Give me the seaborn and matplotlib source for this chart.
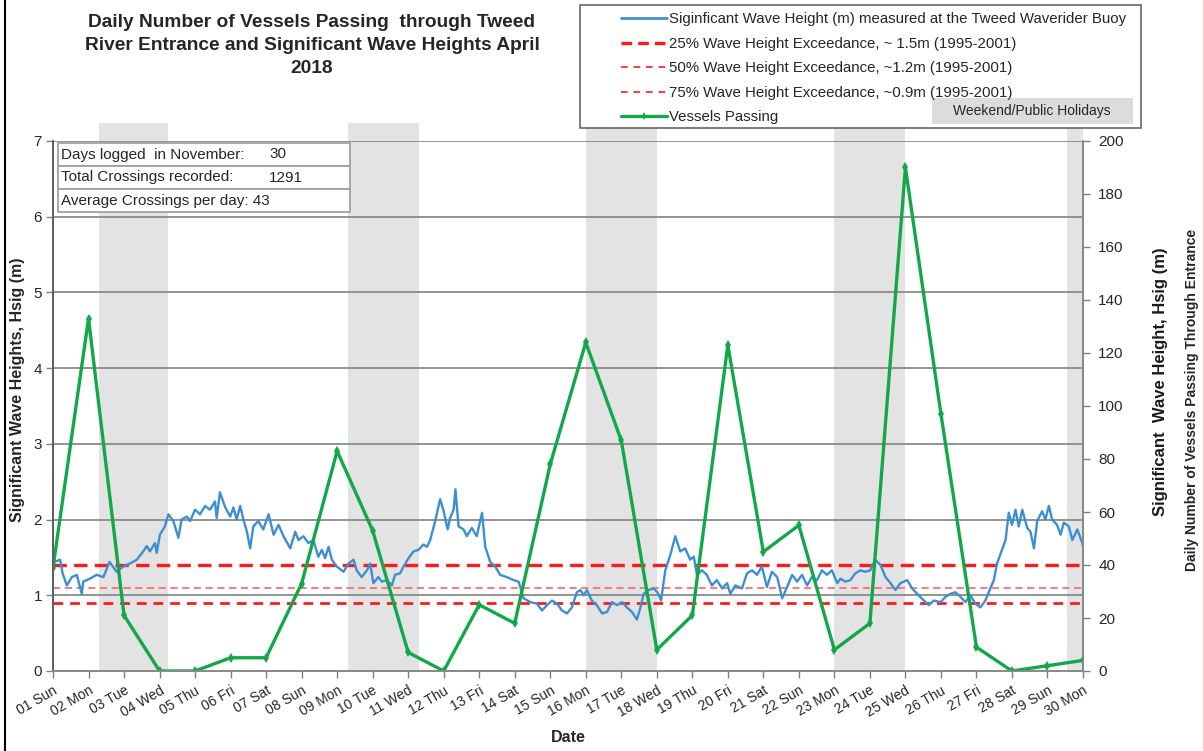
import matplotlib
matplotlib.use("Agg")
import matplotlib.pyplot as plt
import seaborn as sns
from matplotlib.lines import Line2D
from matplotlib.patches import Rectangle

TITLE = ("Daily Number of Vessels Passing  through Tweed\n"
         "River Entrance and Significant Wave Heights April\n2018")

days = list(range(1, 31))
day_labels = [
    "01 Sun", "02 Mon", "03 Tue", "04 Wed", "05 Thu", "06 Fri", "07 Sat",
    "08 Sun", "09 Mon", "10 Tue", "11 Wed", "12 Thu", "13 Fri", "14 Sat",
    "15 Sun", "16 Mon", "17 Tue", "18 Wed", "19 Thu", "20 Fri", "21 Sat",
    "22 Sun", "23 Mon", "24 Tue", "25 Wed", "26 Thu", "27 Fri", "28 Sat",
    "29 Sun", "30 Mon",
]
vessels = [39, 133, 21, 0, 0, 5, 5, 33, 83, 53, 7, 0, 25, 18, 78,
           124, 87, 8, 21, 123, 45, 55, 8, 18, 190, 97, 9, 0, 2, 4]

# significant wave height at the Tweed waverider buoy (day of month, m)
wave_day = [
    1.00, 1.03, 1.20, 1.27, 1.39, 1.53, 1.67, 1.81, 1.85, 2.04,
    2.23, 2.42, 2.59, 2.79, 2.98, 3.17, 3.36, 3.54, 3.64, 3.73,
    3.87, 3.92, 4.01, 4.15, 4.25, 4.39, 4.53, 4.62, 4.77, 4.86,
    5.00, 5.14, 5.28, 5.42, 5.56, 5.61, 5.70, 5.85, 5.99, 6.08,
    6.17, 6.27, 6.36, 6.46, 6.55, 6.64, 6.78, 6.92, 7.07, 7.21,
    7.35, 7.49, 7.68, 7.82, 7.91, 8.05, 8.19, 8.33, 8.47,
    8.57, 8.66, 8.76, 8.85, 8.99, 9.18, 9.32, 9.46, 9.55, 9.69,
    9.84, 9.93, 10.02, 10.16, 10.26, 10.40, 10.54, 10.63, 10.77, 10.87,
    11.01, 11.15, 11.29, 11.43, 11.53, 11.62, 11.76, 11.90, 12.00, 12.11,
    12.18, 12.28, 12.33, 12.42, 12.56, 12.65, 12.79, 12.93, 13.08, 13.17,
    13.31, 13.45, 13.59, 13.78, 13.97, 14.11, 14.25, 14.44, 14.62, 14.77,
    14.91, 15.05, 15.19, 15.33, 15.47, 15.61, 15.75, 15.85,
    15.94, 16.03, 16.17, 16.31, 16.46, 16.60, 16.74, 16.88, 17.02, 17.16,
    17.30, 17.44, 17.54, 17.63, 17.77, 17.91, 18.02, 18.12, 18.24, 18.38,
    18.52, 18.66, 18.80, 18.94, 19.04, 19.13, 19.27, 19.41, 19.55, 19.69,
    19.84, 19.98, 20.07, 20.21, 20.40, 20.54, 20.68, 20.82, 20.96, 21.10,
    21.24, 21.39, 21.53, 21.67, 21.81, 21.95, 22.09, 22.23, 22.37, 22.51,
    22.65, 22.79, 22.93, 23.08, 23.17,
    23.31, 23.45, 23.59, 23.73, 23.87, 24.01, 24.15, 24.30, 24.44, 24.58,
    24.72, 24.86, 25.05, 25.19, 25.33, 25.52, 25.66, 25.80, 25.99, 26.13,
    26.27, 26.41, 26.55, 26.69, 26.83, 26.97, 27.11, 27.25, 27.39, 27.49,
    27.58, 27.72, 27.82, 27.91, 28.00, 28.10, 28.19, 28.29, 28.43, 28.52,
    28.62, 28.71, 28.85, 28.94, 29.04, 29.13, 29.27, 29.37, 29.46, 29.60,
    29.70, 29.84, 29.98, 30.00,
]
wave_hsig = [
    1.42, 1.44, 1.47, 1.29, 1.13, 1.24, 1.27, 1.02, 1.18, 1.22,
    1.27, 1.24, 1.44, 1.31, 1.38, 1.42, 1.47, 1.58, 1.65, 1.58,
    1.69, 1.56, 1.80, 1.91, 2.07, 1.98, 1.76, 2.00, 2.04, 1.98,
    2.13, 2.07, 2.18, 2.13, 2.24, 2.02, 2.36, 2.16, 2.04, 2.16,
    2.00, 2.18, 2.00, 1.84, 1.62, 1.91, 1.98, 1.87, 2.07, 1.80,
    1.93, 1.78, 1.62, 1.84, 1.73, 1.78, 1.69, 1.73, 1.51,
    1.60, 1.49, 1.64, 1.47, 1.38, 1.31, 1.42, 1.47, 1.33, 1.24,
    1.33, 1.42, 1.16, 1.24, 1.18, 1.20, 1.13, 1.27, 1.29, 1.38,
    1.49, 1.58, 1.60, 1.67, 1.64, 1.73, 1.98, 2.27, 2.11, 1.87,
    2.02, 2.13, 2.40, 1.91, 1.87, 1.78, 1.89, 1.78, 2.09, 1.64,
    1.44, 1.38, 1.27, 1.24, 1.20, 1.18, 0.96, 0.91, 0.89, 0.80,
    0.87, 0.93, 0.89, 0.80, 0.76, 0.84, 1.04, 1.07,
    1.00, 1.07, 0.93, 0.87, 0.76, 0.78, 0.91, 0.87, 0.91, 0.84,
    0.78, 0.68, 0.84, 1.02, 1.07, 1.09, 1.04, 0.93, 1.33, 1.53,
    1.78, 1.58, 1.62, 1.47, 1.51, 1.27, 1.33, 1.27, 1.13, 1.20,
    1.09, 1.16, 1.02, 1.13, 1.09, 1.29, 1.33, 1.27, 1.38, 1.11,
    1.31, 1.24, 0.96, 1.11, 1.27, 1.18, 1.27, 1.13, 1.24, 1.20,
    1.33, 1.27, 1.33, 1.16, 1.22,
    1.18, 1.20, 1.29, 1.33, 1.31, 1.33, 1.47, 1.40, 1.24, 1.16,
    1.07, 1.16, 1.20, 1.09, 1.02, 0.93, 0.87, 0.93, 0.91, 0.98,
    1.02, 1.04, 0.98, 0.91, 1.00, 0.89, 0.84, 0.93, 1.09, 1.20,
    1.42, 1.60, 1.73, 2.09, 1.93, 2.13, 1.91, 2.13, 1.89, 1.84,
    1.62, 1.98, 2.11, 2.00, 2.18, 2.00, 1.93, 1.80, 1.96, 1.91,
    1.73, 1.87, 1.69, 1.64,
]

# wave height exceedance levels as drawn (m)
exceed_levels = [1.4, 1.1, 0.9]
holiday_spans = [(2.3, 4.25), (9.3, 11.3), (16.0, 18.0), (23.0, 25.0), (29.55, 30.0)]

legend_labels = [
    "Siginficant Wave Height (m) measured at the Tweed Waverider Buoy",
    "25% Wave Height Exceedance, ~ 1.5m (1995-2001)",
    "50% Wave Height Exceedance, ~1.2m (1995-2001)",
    "75% Wave Height Exceedance, ~0.9m (1995-2001)",
    "Vessels Passing",
]
info_rows = ["Days logged  in November:", "Total Crossings recorded:", "Average Crossings per day:"]
info_values = ["30", "1291", "43"]

BLUE = "#3d8fd3"
GREEN = "#12a84a"
RED = "#ff1a1a"
PINK = "#ff6f6f"
BAND = "#e3e3e3"

sns.set_style("white")
plt.rcParams["font.family"] = ["Liberation Sans", "DejaVu Sans"]

W, H = 1203, 751
fig = plt.figure(figsize=(W / 100, H / 100), dpi=100)
ax = fig.add_axes([53 / W, 80 / H, 1030 / W, 530 / H])


def fx(px):
    return px / W


def fy(py):
    return 1 - py / H


for x0, x1 in holiday_spans:
    ax.axvspan(x0, x1, ymin=0, ymax=7.24 / 7, color=BAND, lw=0, zorder=0, clip_on=False)

ax.set_axisbelow(True)
ax.yaxis.grid(True, color="#8a8a8a", lw=1.3)
ax.xaxis.grid(False)

ax.axhline(exceed_levels[0], color=RED, lw=2.4, ls=(0, (4, 2.2)), zorder=2)
ax.axhline(exceed_levels[1], color=PINK, lw=1.3, ls=(0, (4, 2.5)), zorder=2)
ax.axhline(exceed_levels[2], color=RED, lw=2.0, ls=(0, (3.5, 2.5)), zorder=2)

sns.lineplot(x=wave_day, y=wave_hsig, ax=ax, color=BLUE, lw=1.7, zorder=3)

ax2 = ax.twinx()
sns.lineplot(x=days, y=vessels, ax=ax2, color=GREEN, lw=2.4, marker="d",
             markersize=5, markeredgewidth=0)

ax.set_xlim(1, 30)
ax.set_ylim(0, 7)
ax2.set_ylim(0, 200)
ax.set_yticks(range(0, 8))
ax2.set_yticks(range(0, 201, 20))
ax.set_xticks(days)
ax.set_xticklabels(day_labels, rotation=30, ha="right", rotation_mode="anchor", fontsize=10)
ax.tick_params(axis="x", bottom=True, length=5, width=1, color="#7f7f7f", pad=4)
ax.tick_params(axis="y", left=True, length=5, width=1, color="#7f7f7f", labelsize=11, pad=3)
ax2.tick_params(axis="y", right=True, length=5, width=1, color="#7f7f7f", labelsize=11, pad=6)
ax.set_xlabel("")
ax.set_ylabel("")
ax2.set_ylabel("")

for a in (ax, ax2):
    a.spines["top"].set_visible(False)
    a.spines["left"].set_color("#5f5f5f")
    a.spines["right"].set_color("#8a8a8a")
    a.spines["bottom"].set_color("#8a8a8a")
    for s in a.spines.values():
        s.set_linewidth(1.3)

# title and axis labels
fig.text(fx(312), fy(14), TITLE, ha="center", va="top", fontsize=13.8,
         fontweight="bold", linespacing=1.45)
fig.text(fx(18), fy(390), "Significant Wave Heights, Hsig (m)", rotation=90,
         ha="center", va="center", fontsize=11.5, fontweight="bold")
fig.text(fx(1160), fy(382), "Significant  Wave Height, Hsig (m)", rotation=90,
         ha="center", va="center", fontsize=12, fontweight="bold", color="#1a1a1a")
fig.text(fx(1192), fy(400), "Daily Number of Vessels Passing Through Entrance",
         rotation=90, ha="center", va="center", fontsize=10, fontweight="bold")
fig.text(fx(568), fy(738), "Date", ha="center", va="center", fontsize=11.5, fontweight="bold")

# summary box
row_edges = [(143, 166), (166, 189), (189, 212)]
for (top, bot), label, value in zip(row_edges, info_rows, info_values):
    fig.patches.append(Rectangle((fx(58), fy(bot)), fx(350 - 58), (bot - top) / H,
                                 transform=fig.transFigure, facecolor="white",
                                 edgecolor="#9a9a9a", lw=1.2, zorder=5))
    mid = fy((top + bot) / 2)
    if value == "43":
        fig.text(fx(61), mid, f"{label} {value}", ha="left", va="center", fontsize=11, zorder=6)
    else:
        fig.text(fx(61), mid, label, ha="left", va="center", fontsize=11, zorder=6)
        fig.text(fx(269), mid, value, ha="left", va="center", fontsize=11, zorder=6)

# legend frame and entries
fig.patches.append(Rectangle((fx(580), fy(128)), fx(1141 - 580), 123 / H,
                             transform=fig.transFigure, facecolor="white",
                             edgecolor="#666666", lw=1.2, zorder=5))
fig.patches.append(Rectangle((fx(932), fy(124)), fx(201), 26 / H,
                             transform=fig.transFigure, facecolor="#dcdcdc",
                             lw=0, zorder=6))
fig.text(fx(1032), fy(111), "Weekend/Public Holidays", ha="center", va="center",
         fontsize=10, zorder=7)
handles = [
    Line2D([], [], color=BLUE, lw=2),
    Line2D([], [], color=RED, lw=2.4, ls=(0, (3.2, 1.8))),
    Line2D([], [], color=RED, lw=1.2, ls=(0, (4, 3.5))),
    Line2D([], [], color=RED, lw=1.2, ls=(0, (4, 3.5))),
    Line2D([], [], color=GREEN, lw=2.4, marker="d", markersize=4, markeredgewidth=0),
]
leg = fig.legend(handles, legend_labels, loc="upper left", bbox_to_anchor=(fx(607), fy(-1)),
                 frameon=False, fontsize=10.8, handlelength=3.1, handletextpad=0.15,
                 labelspacing=0.7, numpoints=1)
leg.set_zorder(8)

# left border of the original chart frame
fig.add_artist(Line2D([0.004, 0.004], [0, 1], color="black", lw=1.5, transform=fig.transFigure))

fig.savefig("out.png", dpi=100)
